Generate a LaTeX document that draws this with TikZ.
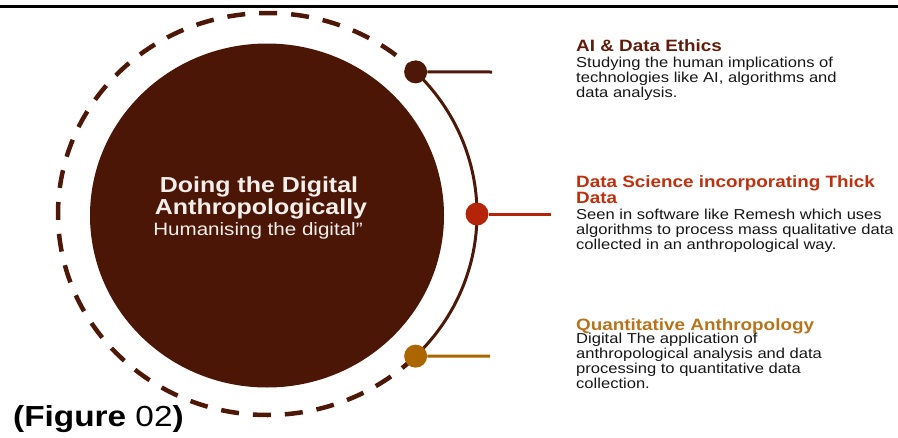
\documentclass[tikz,border=0pt]{standalone}
\usepackage{fontspec}
\setmainfont[FakeStretch=1.15]{Liberation Sans}
\usetikzlibrary{shapes.geometric,positioning,calc}

\definecolor{hubbrown}{RGB}{75,22,5}
\definecolor{ringbrown}{RGB}{78,24,8}
\definecolor{dotred}{RGB}{181,35,8}
\definecolor{dotgold}{RGB}{172,102,0}
\definecolor{headbrown}{RGB}{98,28,12}
\definecolor{headred}{RGB}{192,48,14}
\definecolor{headgold}{RGB}{184,115,28}
\definecolor{inkblack}{RGB}{22,22,22}
\definecolor{titlewhite}{RGB}{242,238,236}

\begin{document}
\begin{tikzpicture}[
    x=1pt, y=-1pt,
    line join=round,
    ring/.style={draw=ringbrown, line width=4.5pt, dash pattern=on 18pt off 14pt},
    track/.style={draw=ringbrown, line width=3pt},
    knob/.style={circle, fill=#1, minimum size=23pt, inner sep=0pt},
    spoke/.style={draw=#1, line width=3pt},
    title/.style={anchor=base, inner sep=0pt, text=titlewhite, font=\bfseries\fontsize{21.7}{22}\selectfont},
    subtitle/.style={anchor=base, inner sep=0pt, text=titlewhite, font=\fontsize{17.9}{18}\selectfont},
    heading/.style={anchor=base west, inner sep=0pt, align=left, text=#1,
        font=\bfseries\fontsize{16.4}{16.5}\selectfont},
    body/.style={anchor=base west, inner sep=0pt, align=left, text=inkblack,
        font=\fontsize{14.4}{15}\selectfont}
]

\useasboundingbox (0,0) rectangle (898,437);

% -------------------------------------------------
% Верхняя линия
% -------------------------------------------------
\coordinate (TL) at (0,6);
\coordinate (TR) at (898,6);
\draw[line width=3pt] (TL)--(TR);

% -------------------------------------------------
% Центральный круг
% -------------------------------------------------
\coordinate (O) at (267.5,214);   % центр кольца
\node[ellipse, fill=hubbrown, minimum width=354pt, minimum height=344pt, inner sep=0pt] (hub) at (267,215.5) {};

\node[title] (doing) at (259,192) {Doing the Digital};
\node[title] (anthro) at (261,214) {Anthropologically};
\node[subtitle] (human) at (258,235) {Humanising the digital”};

% -------------------------------------------------
% Кольцо: пунктир слева, сплошная дуга справа
% -------------------------------------------------
\draw[ring] (O) ++(45:209.5 and 201) arc[start angle=45, end angle=315, x radius=209.5, y radius=201];
\draw[track] (O) ++(-45:209.5 and 201) arc[start angle=-45, end angle=45, x radius=209.5, y radius=201];

% -------------------------------------------------
% Точки на дуге и отводы к подписям
% -------------------------------------------------
\node[knob=ringbrown] (ethics) at ($(O)+(-45:209.5 and 201)$) {};
\node[knob=dotred]    (science) at ($(O)+(0:209.5 and 201)$) {};
\node[knob=dotgold]   (quant) at ($(O)+(45:209.5 and 201)$) {};

\coordinate (ethicsEnd) at (492,72);
\coordinate (scienceEnd) at (551,214);
\coordinate (quantEnd) at (490,356);

\draw[spoke=ringbrown] (ethics)--(ethicsEnd);
\draw[spoke=dotred] (science)--(scienceEnd);
\draw[spoke=dotgold] (quant)--(quantEnd);

% -------------------------------------------------
% Подписи справа (привязка по базовой линии последней строки)
% -------------------------------------------------
\node[heading=headbrown] (ethicsHead) at (576,51) {AI \& Data Ethics};
\node[body] (ethicsText) at (576,97) {Studying the human implications of\\technologies like AI, algorithms and\\data analysis.};

\node[heading=headred] (scienceHead) at (576,203.5) {Data Science incorporating Thick\\Data};
\node[body] (scienceText) at (576,249) {Seen in software like Remesh which uses\\algorithms to process mass qualitative data\\collected in an anthropological way.};

\node[heading=headgold] (quantHead) at (576,330) {Quantitative Anthropology};
\node[body] (quantText) at (576,388.5) {Digital The application of\\anthropological analysis and data\\processing to quantitative data\\collection.};

% -------------------------------------------------
% Номер рисунка
% -------------------------------------------------
\node[anchor=base west, inner sep=0pt, font=\bfseries\fontsize{29}{30}\selectfont] (figNo) at (13,426) {(Figure {\mdseries 02})};

\end{tikzpicture}
\end{document}
